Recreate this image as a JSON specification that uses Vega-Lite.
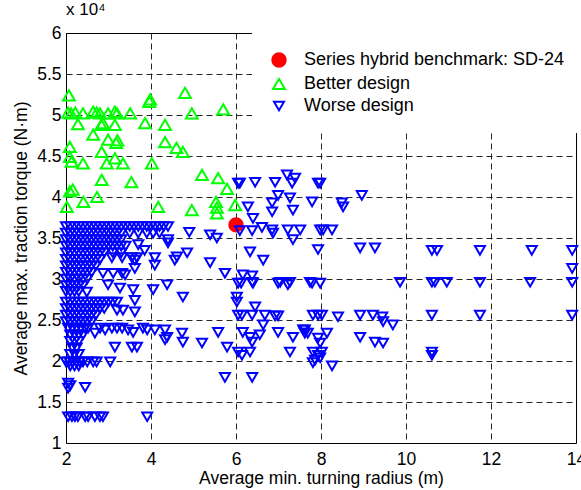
{
"$schema": "https://vega.github.io/schema/vega-lite/v6.json",
"width": 510, "height": 410,
"autosize": {"type": "none"},
"padding": {"left": 66, "top": 33, "right": 5, "bottom": 47},
"background": "white",
"config": {
 "font": "Liberation Sans",
 "view": {"stroke": "black", "strokeWidth": 1},
 "axis": {"grid": true, "gridColor": "black", "gridDash": [6, 4], "gridOpacity": 0.85, "gridWidth": 1, "domain": false, "ticks": false, "labelFlush": false, "labelOverlap": false, "labelFontSize": 17.5, "labelColor": "black", "labelFont": "Liberation Sans", "titleFont": "Liberation Sans", "titleFontSize": 17.5, "titleFontWeight": "normal", "titleColor": "black"},
 "axisX": {"labelPadding": 7, "titlePadding": 2},
 "axisY": {"labelPadding": 5, "titlePadding": 6}
},
"title": {"text": "x 10⁴", "anchor": "start", "frame": "group", "fontSize": 17, "fontWeight": "normal", "color": "black", "font": "Liberation Sans", "offset": 5},
"data": {"values": [
{"c":"r","x":6.0,"y":36600},
{"c":"g","x":2.07,"y":52400},{"c":"g","x":2.05,"y":50300},{"c":"g","x":2.12,"y":50200},{"c":"g","x":2.22,"y":50300},{"c":"g","x":2.4,"y":50200},{"c":"g","x":2.64,"y":50400},{"c":"g","x":2.72,"y":50300},{"c":"g","x":2.8,"y":50200},{"c":"g","x":2.99,"y":50200},{"c":"g","x":3.15,"y":50400},{"c":"g","x":3.2,"y":50200},{"c":"g","x":3.51,"y":50200},{"c":"g","x":3.96,"y":51600},{"c":"g","x":3.98,"y":51900},{"c":"g","x":4.8,"y":52700},{"c":"g","x":4.96,"y":50200},{"c":"g","x":5.7,"y":50700},{"c":"g","x":2.28,"y":48900},{"c":"g","x":2.83,"y":48800},{"c":"g","x":2.87,"y":49000},{"c":"g","x":2.64,"y":47600},{"c":"g","x":3.15,"y":48800},{"c":"g","x":3.86,"y":49000},{"c":"g","x":4.33,"y":48800},{"c":"g","x":2.99,"y":47000},{"c":"g","x":3.18,"y":46600},{"c":"g","x":3.21,"y":46900},{"c":"g","x":4.33,"y":46700},{"c":"g","x":2.84,"y":45500},{"c":"g","x":4.6,"y":46000},{"c":"g","x":4.75,"y":45500},{"c":"g","x":2.09,"y":46100},{"c":"g","x":2.09,"y":44900},{"c":"g","x":2.13,"y":44300},{"c":"g","x":2.4,"y":44100},{"c":"g","x":2.96,"y":44100},{"c":"g","x":3.15,"y":44700},{"c":"g","x":3.34,"y":44100},{"c":"g","x":4.02,"y":44100},{"c":"g","x":2.84,"y":42100},{"c":"g","x":3.54,"y":41800},{"c":"g","x":2.09,"y":40700},{"c":"g","x":2.16,"y":40900},{"c":"g","x":2.73,"y":40000},{"c":"g","x":2.41,"y":39400},{"c":"g","x":2.02,"y":38800},{"c":"g","x":4.17,"y":38800},{"c":"g","x":4.96,"y":38400},{"c":"g","x":5.2,"y":42700},{"c":"g","x":5.58,"y":42300},{"c":"g","x":5.79,"y":41000},{"c":"g","x":5.53,"y":39400},{"c":"g","x":5.55,"y":38700},{"c":"g","x":5.55,"y":38000},{"c":"g","x":5.98,"y":39000},
{"c":"b","x":2.0,"y":36400},{"c":"b","x":2.1,"y":36400},{"c":"b","x":2.2,"y":36400},{"c":"b","x":2.3,"y":36400},{"c":"b","x":2.4,"y":36400},{"c":"b","x":2.5,"y":36400},{"c":"b","x":2.6,"y":36400},{"c":"b","x":2.7,"y":36400},{"c":"b","x":2.8,"y":36400},{"c":"b","x":2.9,"y":36400},{"c":"b","x":3.0,"y":36400},{"c":"b","x":3.1,"y":36400},{"c":"b","x":3.2,"y":36400},{"c":"b","x":3.3,"y":36400},{"c":"b","x":3.4,"y":36400},{"c":"b","x":3.5,"y":36400},{"c":"b","x":3.6,"y":36400},{"c":"b","x":3.7,"y":36400},{"c":"b","x":3.8,"y":36400},{"c":"b","x":3.9,"y":36400},{"c":"b","x":4.0,"y":36400},{"c":"b","x":4.1,"y":36400},{"c":"b","x":4.2,"y":36400},{"c":"b","x":4.3,"y":36400},{"c":"b","x":4.4,"y":36400},
{"c":"b","x":2.0,"y":35600},{"c":"b","x":2.1,"y":35600},{"c":"b","x":2.2,"y":35600},{"c":"b","x":2.3,"y":35600},{"c":"b","x":2.4,"y":35600},{"c":"b","x":2.5,"y":35600},{"c":"b","x":2.6,"y":35600},{"c":"b","x":2.7,"y":35600},{"c":"b","x":2.8,"y":35600},{"c":"b","x":2.9,"y":35600},{"c":"b","x":3.0,"y":35600},{"c":"b","x":3.1,"y":35600},{"c":"b","x":3.2,"y":35600},{"c":"b","x":3.3,"y":35600},{"c":"b","x":3.5,"y":35600},{"c":"b","x":3.7,"y":35600},{"c":"b","x":3.9,"y":35600},{"c":"b","x":4.05,"y":35600},{"c":"b","x":4.2,"y":35600},
{"c":"b","x":2.0,"y":34800},{"c":"b","x":2.1,"y":34800},{"c":"b","x":2.2,"y":34800},{"c":"b","x":2.3,"y":34800},{"c":"b","x":2.4,"y":34800},{"c":"b","x":2.5,"y":34800},{"c":"b","x":2.6,"y":34800},{"c":"b","x":2.7,"y":34800},{"c":"b","x":2.8,"y":34800},{"c":"b","x":2.9,"y":34800},{"c":"b","x":3.0,"y":34800},{"c":"b","x":3.1,"y":34800},{"c":"b","x":3.2,"y":34800},{"c":"b","x":3.3,"y":34800},{"c":"b","x":4.4,"y":34800},
{"c":"b","x":2.0,"y":34000},{"c":"b","x":2.1,"y":34000},{"c":"b","x":2.2,"y":34000},{"c":"b","x":2.3,"y":34000},{"c":"b","x":2.4,"y":34000},{"c":"b","x":2.5,"y":34000},{"c":"b","x":2.6,"y":34000},{"c":"b","x":2.7,"y":34000},{"c":"b","x":2.8,"y":34000},{"c":"b","x":2.9,"y":34000},{"c":"b","x":3.0,"y":34000},{"c":"b","x":3.1,"y":34000},{"c":"b","x":3.2,"y":34000},{"c":"b","x":3.3,"y":34000},{"c":"b","x":3.4,"y":34000},{"c":"b","x":3.7,"y":34200},
{"c":"b","x":2.0,"y":33200},{"c":"b","x":2.1,"y":33200},{"c":"b","x":2.2,"y":33200},{"c":"b","x":2.3,"y":33200},{"c":"b","x":2.4,"y":33200},{"c":"b","x":2.5,"y":33200},{"c":"b","x":2.6,"y":33200},{"c":"b","x":2.7,"y":33200},{"c":"b","x":2.8,"y":33200},{"c":"b","x":2.9,"y":33200},{"c":"b","x":3.1,"y":33200},{"c":"b","x":3.3,"y":33200},{"c":"b","x":3.85,"y":33500},
{"c":"b","x":2.0,"y":32400},{"c":"b","x":2.1,"y":32400},{"c":"b","x":2.2,"y":32400},{"c":"b","x":2.3,"y":32400},{"c":"b","x":2.4,"y":32400},{"c":"b","x":2.5,"y":32400},{"c":"b","x":2.6,"y":32400},{"c":"b","x":2.7,"y":32400},{"c":"b","x":2.8,"y":32400},
{"c":"b","x":2.0,"y":31600},{"c":"b","x":2.1,"y":31600},{"c":"b","x":2.2,"y":31600},{"c":"b","x":2.3,"y":31600},{"c":"b","x":2.4,"y":31600},{"c":"b","x":2.5,"y":31600},{"c":"b","x":2.6,"y":31600},{"c":"b","x":2.7,"y":31600},
{"c":"b","x":2.0,"y":30800},{"c":"b","x":2.1,"y":30800},{"c":"b","x":2.2,"y":30800},{"c":"b","x":2.3,"y":30800},{"c":"b","x":2.4,"y":30800},{"c":"b","x":2.5,"y":30800},{"c":"b","x":2.6,"y":30800},
{"c":"b","x":2.0,"y":30000},{"c":"b","x":2.1,"y":30000},{"c":"b","x":2.2,"y":30000},{"c":"b","x":2.3,"y":30000},{"c":"b","x":2.4,"y":30000},{"c":"b","x":2.5,"y":30000},
{"c":"b","x":2.0,"y":29200},{"c":"b","x":2.1,"y":29200},{"c":"b","x":2.2,"y":29200},{"c":"b","x":2.3,"y":29200},{"c":"b","x":2.4,"y":29200},
{"c":"b","x":2.0,"y":28500},{"c":"b","x":2.1,"y":28500},{"c":"b","x":2.2,"y":28500},{"c":"b","x":2.3,"y":28500},{"c":"b","x":2.49,"y":28400},
{"c":"b","x":3.08,"y":32600},{"c":"b","x":3.32,"y":32600},{"c":"b","x":3.55,"y":32600},{"c":"b","x":3.67,"y":32600},{"c":"b","x":2.87,"y":30700},{"c":"b","x":3.11,"y":30700},{"c":"b","x":3.32,"y":30700},{"c":"b","x":4.09,"y":32600},{"c":"b","x":4.09,"y":31700},{"c":"b","x":4.61,"y":32700},{"c":"b","x":4.85,"y":33200},{"c":"b","x":5.39,"y":32000},{"c":"b","x":5.74,"y":30700},{"c":"b","x":2.99,"y":29300},{"c":"b","x":3.27,"y":28900},{"c":"b","x":3.58,"y":28700},{"c":"b","x":4.05,"y":28700},{"c":"b","x":4.38,"y":29300},{"c":"b","x":3.62,"y":27400},{"c":"b","x":3.62,"y":26000},{"c":"b","x":4.75,"y":27800},{"c":"b","x":3.2,"y":26200},{"c":"b","x":3.34,"y":26200},{"c":"b","x":4.4,"y":34400},{"c":"b","x":4.56,"y":32300},{"c":"b","x":3.62,"y":32300},{"c":"b","x":3.62,"y":31300},{"c":"b","x":3.39,"y":30500},{"c":"b","x":4.9,"y":35700},{"c":"b","x":5.39,"y":35400},{"c":"b","x":5.55,"y":35000},
{"c":"b","x":2.0,"y":27200},{"c":"b","x":2.1,"y":27200},{"c":"b","x":2.2,"y":27200},{"c":"b","x":2.3,"y":27200},{"c":"b","x":2.4,"y":27200},{"c":"b","x":2.5,"y":27200},{"c":"b","x":2.6,"y":27200},{"c":"b","x":2.7,"y":27200},{"c":"b","x":2.8,"y":27200},{"c":"b","x":2.9,"y":27200},{"c":"b","x":3.0,"y":27200},{"c":"b","x":3.1,"y":27200},{"c":"b","x":3.2,"y":27200},
{"c":"b","x":2.0,"y":26400},{"c":"b","x":2.1,"y":26400},{"c":"b","x":2.2,"y":26400},{"c":"b","x":2.3,"y":26400},{"c":"b","x":2.4,"y":26400},{"c":"b","x":2.5,"y":26400},{"c":"b","x":2.6,"y":26400},{"c":"b","x":2.7,"y":26400},{"c":"b","x":2.8,"y":26400},{"c":"b","x":2.9,"y":26400},
{"c":"b","x":2.0,"y":25600},{"c":"b","x":2.1,"y":25600},{"c":"b","x":2.2,"y":25600},{"c":"b","x":2.3,"y":25600},{"c":"b","x":2.4,"y":25600},{"c":"b","x":2.5,"y":25600},{"c":"b","x":2.6,"y":25600},{"c":"b","x":2.7,"y":25600},
{"c":"b","x":2.0,"y":24800},{"c":"b","x":2.1,"y":24800},{"c":"b","x":2.2,"y":24800},{"c":"b","x":2.3,"y":24800},{"c":"b","x":2.4,"y":24800},{"c":"b","x":2.5,"y":24800},{"c":"b","x":2.6,"y":24800},
{"c":"b","x":2.05,"y":24000},{"c":"b","x":2.15,"y":24000},{"c":"b","x":2.25,"y":24000},{"c":"b","x":2.35,"y":24000},{"c":"b","x":2.45,"y":24000},
{"c":"b","x":2.1,"y":23200},{"c":"b","x":2.2,"y":23200},{"c":"b","x":2.3,"y":23200},{"c":"b","x":2.4,"y":23200},
{"c":"b","x":2.1,"y":22400},{"c":"b","x":2.2,"y":22400},{"c":"b","x":2.3,"y":22400},
{"c":"b","x":2.15,"y":21600},{"c":"b","x":2.25,"y":21600},
{"c":"b","x":2.1,"y":20800},{"c":"b","x":2.2,"y":20800},{"c":"b","x":2.3,"y":20800},
{"c":"b","x":2.52,"y":24000},{"c":"b","x":2.68,"y":23400},{"c":"b","x":2.8,"y":24000},{"c":"b","x":2.92,"y":23800},{"c":"b","x":3.08,"y":24000},{"c":"b","x":3.2,"y":24000},{"c":"b","x":3.32,"y":24000},{"c":"b","x":3.46,"y":23800},{"c":"b","x":3.58,"y":23500},{"c":"b","x":3.81,"y":24000},{"c":"b","x":3.91,"y":23800},{"c":"b","x":4.09,"y":23800},{"c":"b","x":4.33,"y":23800},{"c":"b","x":4.38,"y":22900},{"c":"b","x":4.73,"y":23400},{"c":"b","x":4.75,"y":22300},{"c":"b","x":5.2,"y":22200},{"c":"b","x":3.15,"y":21700},{"c":"b","x":3.55,"y":21700},{"c":"b","x":3.67,"y":21700},{"c":"b","x":4.33,"y":22600},{"c":"b","x":5.58,"y":23500},{"c":"b","x":5.79,"y":21700},
{"c":"b","x":2.0,"y":19900},{"c":"b","x":2.08,"y":19900},{"c":"b","x":2.16,"y":19900},{"c":"b","x":2.24,"y":19900},{"c":"b","x":2.32,"y":19900},{"c":"b","x":2.4,"y":19900},{"c":"b","x":2.5,"y":19900},{"c":"b","x":2.64,"y":19900},{"c":"b","x":2.72,"y":19900},{"c":"b","x":2.1,"y":19400},{"c":"b","x":2.2,"y":19400},{"c":"b","x":2.3,"y":19400},{"c":"b","x":3.04,"y":19900},
{"c":"b","x":2.05,"y":17300},{"c":"b","x":2.05,"y":16700},{"c":"b","x":2.1,"y":17000},{"c":"b","x":2.45,"y":16800},
{"c":"b","x":2.05,"y":13200},{"c":"b","x":2.14,"y":13200},{"c":"b","x":2.21,"y":13200},{"c":"b","x":2.28,"y":13200},{"c":"b","x":2.45,"y":13200},{"c":"b","x":2.52,"y":13200},{"c":"b","x":2.68,"y":13200},{"c":"b","x":2.8,"y":13200},{"c":"b","x":2.87,"y":13200},{"c":"b","x":3.91,"y":13200},
{"c":"b","x":6.05,"y":41700},{"c":"b","x":6.09,"y":41700},{"c":"b","x":6.45,"y":41800},{"c":"b","x":6.92,"y":41800},{"c":"b","x":7.2,"y":42700},{"c":"b","x":7.32,"y":41700},{"c":"b","x":7.39,"y":42300},{"c":"b","x":7.93,"y":41700},{"c":"b","x":7.98,"y":41700},
{"c":"b","x":6.99,"y":40200},{"c":"b","x":7.27,"y":39900},{"c":"b","x":6.85,"y":39300},{"c":"b","x":6.85,"y":38200},{"c":"b","x":6.28,"y":38800},{"c":"b","x":6.4,"y":37400},{"c":"b","x":7.34,"y":38400},{"c":"b","x":7.79,"y":39400},{"c":"b","x":8.49,"y":39300},{"c":"b","x":8.52,"y":38800},{"c":"b","x":8.96,"y":40200},
{"c":"b","x":6.09,"y":35900},{"c":"b","x":6.38,"y":35900},{"c":"b","x":6.61,"y":36300},{"c":"b","x":6.85,"y":36000},{"c":"b","x":6.87,"y":35600},{"c":"b","x":7.22,"y":36000},{"c":"b","x":7.34,"y":34800},{"c":"b","x":7.51,"y":36000},{"c":"b","x":7.98,"y":36000},{"c":"b","x":8.05,"y":36000},{"c":"b","x":8.26,"y":36000},
{"c":"b","x":6.33,"y":33300},{"c":"b","x":6.64,"y":32300},{"c":"b","x":7.93,"y":33600},{"c":"b","x":8.92,"y":33800},{"c":"b","x":9.27,"y":33800},{"c":"b","x":6.16,"y":30500},{"c":"b","x":6.38,"y":30400},{"c":"b","x":6.38,"y":29600},
{"c":"b","x":6.05,"y":29500},{"c":"b","x":6.12,"y":29500},{"c":"b","x":6.4,"y":29500},{"c":"b","x":6.99,"y":29500},{"c":"b","x":7.22,"y":29300},{"c":"b","x":7.27,"y":29600},{"c":"b","x":7.79,"y":29500},{"c":"b","x":7.98,"y":29500},
{"c":"b","x":6.02,"y":27800},{"c":"b","x":6.02,"y":27200},{"c":"b","x":6.45,"y":26600},
{"c":"b","x":6.05,"y":25600},{"c":"b","x":6.14,"y":25600},{"c":"b","x":6.38,"y":25600},{"c":"b","x":6.68,"y":25600},{"c":"b","x":6.92,"y":25500},{"c":"b","x":6.99,"y":25500},{"c":"b","x":7.81,"y":25600},{"c":"b","x":7.93,"y":25600},{"c":"b","x":8.02,"y":25600},{"c":"b","x":8.4,"y":25400},{"c":"b","x":8.92,"y":25600},{"c":"b","x":9.22,"y":25600},{"c":"b","x":9.44,"y":25400},{"c":"b","x":9.46,"y":24800},{"c":"b","x":9.69,"y":24400},{"c":"b","x":10.61,"y":25600},{"c":"b","x":11.74,"y":25600},{"c":"b","x":13.91,"y":25600},
{"c":"b","x":6.64,"y":24400},{"c":"b","x":6.16,"y":23500},{"c":"b","x":6.33,"y":22900},{"c":"b","x":6.38,"y":22300},{"c":"b","x":6.56,"y":23200},{"c":"b","x":6.99,"y":23500},{"c":"b","x":7.34,"y":22900},{"c":"b","x":7.58,"y":23800},{"c":"b","x":7.69,"y":23400},{"c":"b","x":7.93,"y":22800},{"c":"b","x":8.14,"y":23400},{"c":"b","x":7.98,"y":22200},{"c":"b","x":8.92,"y":22900},{"c":"b","x":9.27,"y":22300},{"c":"b","x":9.46,"y":22200},{"c":"b","x":7.62,"y":23800},{"c":"b","x":7.62,"y":23400},
{"c":"b","x":6.05,"y":21100},{"c":"b","x":6.14,"y":20700},{"c":"b","x":6.33,"y":21100},{"c":"b","x":7.27,"y":21100},{"c":"b","x":7.81,"y":21100},{"c":"b","x":7.93,"y":20700},{"c":"b","x":7.98,"y":20400},{"c":"b","x":7.86,"y":20100},{"c":"b","x":7.81,"y":19800},{"c":"b","x":8.02,"y":21100},{"c":"b","x":8.26,"y":19400},{"c":"b","x":10.61,"y":21100},{"c":"b","x":10.61,"y":20700},
{"c":"b","x":5.74,"y":18000},{"c":"b","x":6.38,"y":18000},
{"c":"b","x":10.61,"y":33500},{"c":"b","x":10.73,"y":33500},{"c":"b","x":11.74,"y":33500},{"c":"b","x":12.96,"y":33500},{"c":"b","x":13.91,"y":33500},{"c":"b","x":13.91,"y":31300},
{"c":"b","x":7.04,"y":29600},{"c":"b","x":7.74,"y":29600},{"c":"b","x":9.86,"y":29600},{"c":"b","x":10.61,"y":29600},{"c":"b","x":10.68,"y":29600},{"c":"b","x":10.96,"y":29600},{"c":"b","x":11.74,"y":29600},{"c":"b","x":12.92,"y":29600},{"c":"b","x":13.91,"y":29600}
]},
"mark": {"type": "point", "strokeWidth": 2, "opacity": 1},
"encoding": {
 "x": {"field": "x", "type": "quantitative", "scale": {"domain": [2, 14], "nice": false, "zero": false}, "axis": {"values": [2, 4, 6, 8, 10, 12, 14], "title": "Average min. turning radius (m)"}},
 "y": {"field": "y", "type": "quantitative", "scale": {"domain": [10000, 60000], "nice": false, "zero": false}, "axis": {"values": [10000, 15000, 20000, 25000, 30000, 35000, 40000, 45000, 50000, 55000, 60000], "labelExpr": "format(datum.value / 10000, '')", "title": "Average max. traction torque (N·m)"}},
 "shape": {"field": "c", "type": "nominal", "scale": {"domain": ["r", "g", "b"], "range": ["circle", "triangle-up", "triangle-down"]},
   "legend": {"orient": "none", "legendX": 186, "legendY": 0, "title": null, "fillColor": "white", "padding": 18, "labelFontSize": 18, "labelColor": "black", "labelFont": "Liberation Sans", "labelLimit": 400, "rowPadding": 3, "labelOffset": 16, "symbolStrokeWidth": 2, "labelExpr": "datum.value == 'r' ? 'Series hybrid benchmark: SD-24' : datum.value == 'g' ? 'Better design' : 'Worse design'"}},
 "stroke": {"field": "c", "type": "nominal", "scale": {"domain": ["r", "g", "b"], "range": ["#ff0000", "#00ff00", "#0000ff"]}},
 "fill": {"field": "c", "type": "nominal", "scale": {"domain": ["r", "g", "b"], "range": ["#ff0000", "transparent", "transparent"]}},
 "size": {"field": "c", "type": "nominal", "scale": {"domain": ["r", "g", "b"], "range": [180, 100, 100]}}
}
}
